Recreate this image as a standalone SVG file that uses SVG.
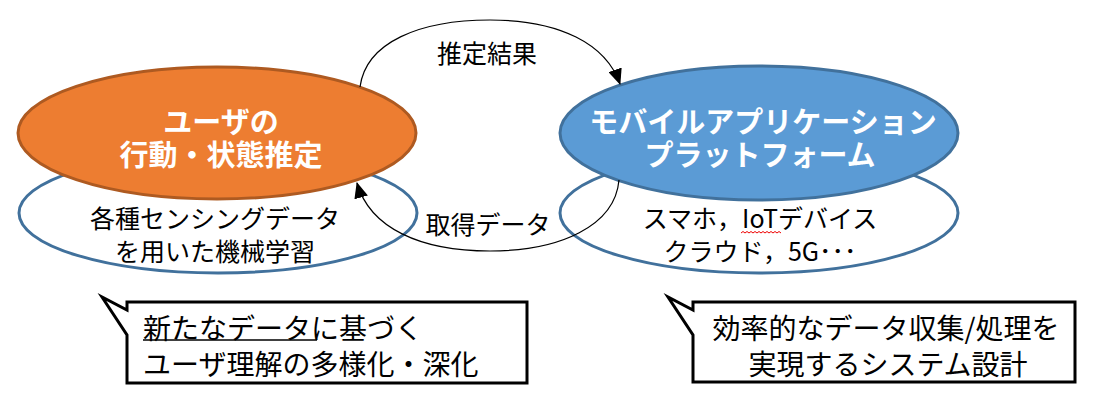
<svg xmlns="http://www.w3.org/2000/svg" width="1104" height="409" viewBox="0 0 1104 409">
<defs>
<style>
.base{fill:#fff;stroke:#41719C;stroke-width:3}
.t{font-family:"Noto Sans CJK JP","Noto Sans",sans-serif;dominant-baseline:central}
.w{fill:#fff;font-weight:bold;font-size:29px;text-anchor:middle}
.b{fill:#000;font-size:25px;text-anchor:middle}
.c{fill:#000;font-size:28px}
.box{fill:#fff;stroke:#000;stroke-width:3;stroke-linejoin:miter}
.arc{fill:none;stroke:#000;stroke-width:1.2}
</style>
<marker id="ah" markerUnits="userSpaceOnUse" markerWidth="16" markerHeight="14" viewBox="0 0 16 14" refX="15" refY="7" orient="auto">
<path d="M0,0 L16,7 L0,14 Z" fill="#000"/>
</marker>
</defs>
<g id="user-node">
<ellipse class="base" cx="218" cy="213" rx="199" ry="60"/>
<ellipse cx="217" cy="133" rx="199" ry="66" fill="#ED7D31" stroke="#AE5A21" stroke-width="3"/>
<text class="t w"><tspan x="221" y="120">ユーザの</tspan><tspan x="221" y="153">行動・状態推定</tspan></text>
<text class="t b"><tspan x="215" y="217">各種センシングデータ</tspan><tspan x="215" y="250">を用いた機械学習</tspan></text>
</g>
<g id="platform-node">
<ellipse class="base" cx="759" cy="213" rx="199" ry="60"/>
<ellipse cx="759" cy="133" rx="199" ry="67" fill="#5B9BD5" stroke="#41719C" stroke-width="3"/>
<text class="t w"><tspan x="763" y="120">モバイルアプリケーション</tspan><tspan x="760" y="153">プラットフォーム</tspan></text>
<text class="t b"><tspan x="760" y="217">スマホ，IoTデバイス</tspan><tspan x="760" y="250">クラウド，5G･･･</tspan></text>
<path d="M741,233 l2,-1.5 l2,1.5 l2,-1.5 l2,1.5 l2,-1.5 l2,1.5 l2,-1.5 l2,1.5 l2,-1.5 l2,1.5 l2,-1.5 l2,1.5 l2,-1.5 l2,1.5 l2,-1.5 l2,1.5 l2,-1.5 l2,1.5 l2,-1.5 l2,1.5" fill="none" stroke="#E00" stroke-width="1"/>
</g>
<g id="connectors">
<path class="arc" d="M360,87 C366,42 420,20 490,20 C560,20 606,44 620,84" marker-end="url(#ah)"/>
<path class="arc" d="M619,180 C615,226 560,251 490,251 C420,251 370,228 357,183" marker-end="url(#ah)"/>
<text class="t b" x="487" y="52">推定結果</text>
<text class="t b" x="488" y="223">取得データ</text>
</g>
<g id="callout-left">
<path class="box" d="M127,302 H527 V383 H127 V335 L102,297 L127,310 Z"/>
<line x1="143" y1="340" x2="317" y2="340" stroke="#000" stroke-width="1.5"/>
<text class="t c"><tspan x="143" y="327">新たなデータに基づく</tspan><tspan x="143" y="363">ユーザ理解の多様化・深化</tspan></text>
</g>
<g id="callout-right">
<path class="box" d="M693,302 H1075 V382 H693 V335 L668,297 L693,310 Z"/>
<text class="t c" text-anchor="middle"><tspan x="886" y="327">効率的なデータ収集/処理を</tspan><tspan x="888" y="363">実現するシステム設計</tspan></text>
</g>
</svg>
